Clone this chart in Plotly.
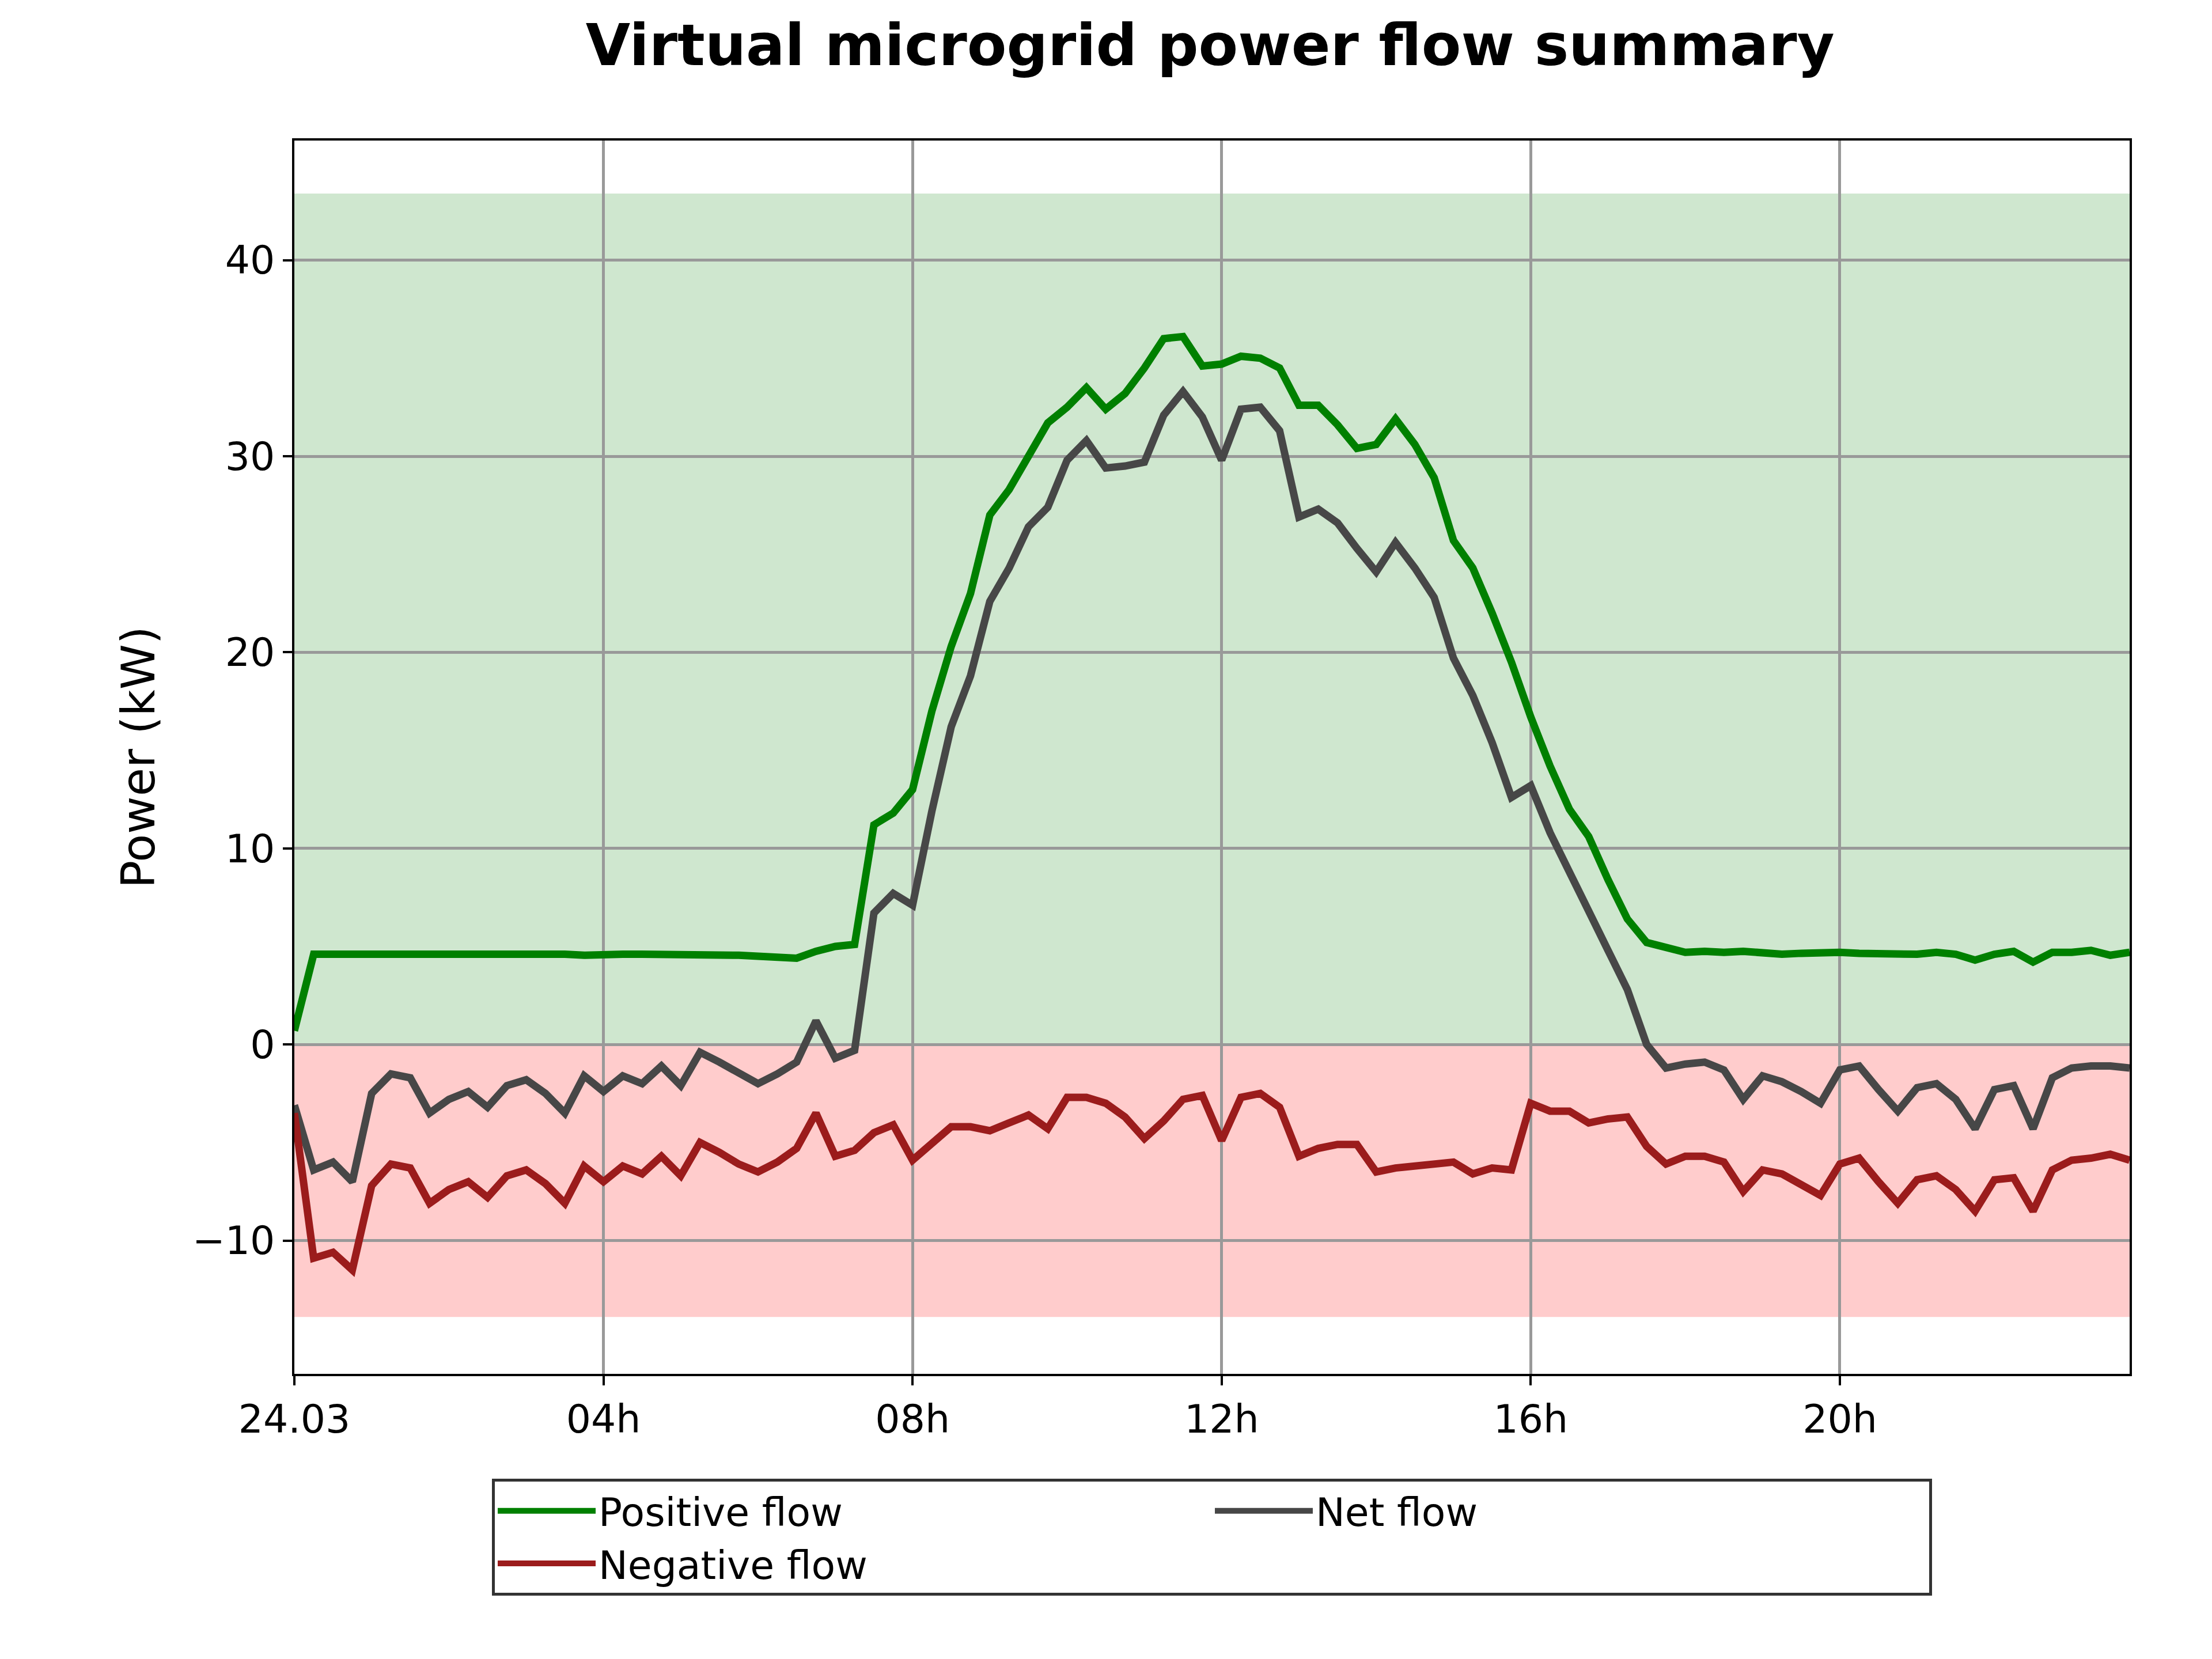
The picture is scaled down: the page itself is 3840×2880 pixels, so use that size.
import plotly.graph_objects as go

# 15-minute steps over the day, in hours
hours = [i * 0.25 for i in range(96)]

positive_flow = [
    0.7, 4.6, 4.6, 4.6, 4.6, 4.6, 4.65, 4.6, 4.6, 4.6, 4.6, 4.6, 4.6, 4.6, 4.6, 4.55,
    4.6, 4.6, 4.6, 4.6, 4.6, 4.6, 4.55, 4.55, 4.5, 4.45, 4.4, 4.75, 5.0, 5.1, 11.2, 11.8,
    13.0, 17.0, 20.3, 23.0, 27.0, 28.3, 30.0, 31.7, 32.5, 33.5, 32.4, 33.2, 34.5, 36.0, 36.1, 34.6,
    34.7, 35.1, 35.0, 34.5, 32.6, 32.6, 31.6, 30.4, 30.6, 31.9, 30.6, 28.9, 25.7, 24.3, 22.0, 19.5,
    16.7, 14.2, 12.0, 10.6, 8.4, 6.4, 5.2, 4.9, 4.7, 4.75, 4.7, 4.75, 4.7, 4.6, 4.65, 4.7,
    4.7, 4.65, 4.65, 4.6, 4.6, 4.7, 4.6, 4.3, 4.6, 4.75, 4.2, 4.7, 4.7, 4.8, 4.55, 4.7,
]
net_flow = [
    -3.1, -6.4, -6.0, -7.0, -2.5, -1.5, -1.7, -3.5, -2.8, -2.4, -3.2, -2.1, -1.8, -2.5, -3.5, -1.6,
    -2.4, -1.6, -2.0, -1.1, -2.1, -0.4, -0.9, -1.5, -2.0, -1.5, -0.9, 1.2, -0.7, -0.3, 6.7, 7.7,
    7.1, 11.9, 16.2, 18.8, 22.6, 24.3, 26.4, 27.4, 29.8, 30.8, 29.4, 29.5, 29.7, 32.1, 33.3, 32.0,
    29.8, 32.4, 32.5, 31.3, 26.9, 27.3, 26.6, 25.3, 24.1, 25.6, 24.3, 22.8, 19.7, 17.8, 15.4, 12.6,
    13.2, 10.8, 8.7, 6.8, 4.8, 2.8, 0.0, -1.2, -1.0, -0.9, -1.3, -2.8, -1.6, -1.9, -2.4, -3.0,
    -1.3, -1.1, -2.3, -3.4, -2.2, -2.0, -2.8, -4.3, -2.3, -2.1, -4.3, -1.7, -1.2, -1.1, -1.1, -1.2,
]
negative_flow = [
    -3.5, -10.9, -10.6, -11.5, -7.2, -6.1, -6.3, -8.1, -7.4, -7.0, -7.8, -6.7, -6.4, -7.1, -8.1, -6.2,
    -7.0, -6.2, -6.6, -5.7, -6.7, -5.0, -5.5, -6.1, -6.5, -6.0, -5.3, -3.5, -5.7, -5.4, -4.5, -4.1,
    -5.9, -5.1, -4.2, -4.2, -4.4, -4.0, -3.6, -4.3, -2.7, -2.7, -3.0, -3.7, -4.8, -3.9, -2.8, -2.6,
    -4.9, -2.7, -2.5, -3.2, -5.7, -5.3, -5.1, -5.1, -6.5, -6.3, -6.2, -6.1, -6.0, -6.6, -6.3, -6.4,
    -3.0, -3.4, -3.4, -4.0, -3.8, -3.7, -5.2, -6.1, -5.7, -5.7, -6.0, -7.5, -6.4, -6.6, -7.1, -7.7,
    -6.1, -5.8, -7.0, -8.1, -6.9, -6.7, -7.4, -8.5, -6.9, -6.8, -8.5, -6.4, -5.9, -5.8, -5.6, -5.9,
]

band_top = 43.4
band_bottom = -13.9

tick_vals = [0, 4, 8, 12, 16, 20]
tick_text = ['24.03', '04h', '08h', '12h', '16h', '20h']

fig = go.Figure()

# shaded bands for positive / negative capacity
fig.add_shape(type='rect', xref='paper', yref='y', x0=0, x1=1, y0=0, y1=band_top,
              fillcolor='rgba(0,128,0,0.19)', line_width=0, layer='below')
fig.add_shape(type='rect', xref='paper', yref='y', x0=0, x1=1, y0=band_bottom, y1=0,
              fillcolor='rgba(255,0,0,0.2)', line_width=0, layer='below')

fig.add_trace(go.Scatter(x=hours, y=positive_flow, mode='lines', name='Positive flow',
                         line=dict(color='green', width=13)))
fig.add_trace(go.Scatter(x=hours, y=net_flow, mode='lines', name='Net flow',
                         line=dict(color='#474747', width=13)))
fig.add_trace(go.Scatter(x=hours, y=negative_flow, mode='lines', name='Negative flow',
                         line=dict(color='#9b1c1c', width=13)))

axis_common = dict(showline=True, linecolor='black', linewidth=4, mirror=True,
                   showgrid=True, gridcolor='#999999', gridwidth=5, zeroline=False,
                   ticks='outside', ticklen=16, tickwidth=4, tickcolor='black',
                   tickfont=dict(family='DejaVu Sans', size=68, color='black'))

fig.update_xaxes(range=[0, 23.75], tickvals=tick_vals, ticktext=tick_text, **axis_common)
fig.update_yaxes(range=[-16.8, 46.1], tickvals=[-10, 0, 10, 20, 30, 40],
                 ticktext=['\u221210', '0', '10', '20', '30', '40'],
                 title=dict(text='Power (kW)', font=dict(family='DejaVu Sans', size=80, color='black'),
                            standoff=40),
                 **axis_common)

fig.update_layout(
    width=3840, height=2880,
    paper_bgcolor='white', plot_bgcolor='white',
    margin=dict(l=503, r=151, t=236, b=503),
    title=dict(text='<b>Virtual microgrid power flow summary</b>', x=0.545, xanchor='center',
               y=0.988, yanchor='top',
               font=dict(family='DejaVu Sans', size=100, color='black')),
    legend=dict(orientation='h', x=0.5, xanchor='center', y=-0.085, yanchor='top',
                bordercolor='#333333', borderwidth=5, bgcolor='white',
                font=dict(family='DejaVu Sans', size=68, color='black'),
                itemwidth=170, entrywidth=1060, entrywidthmode='pixels'),
    showlegend=True,
)

fig.write_html('out.html')
